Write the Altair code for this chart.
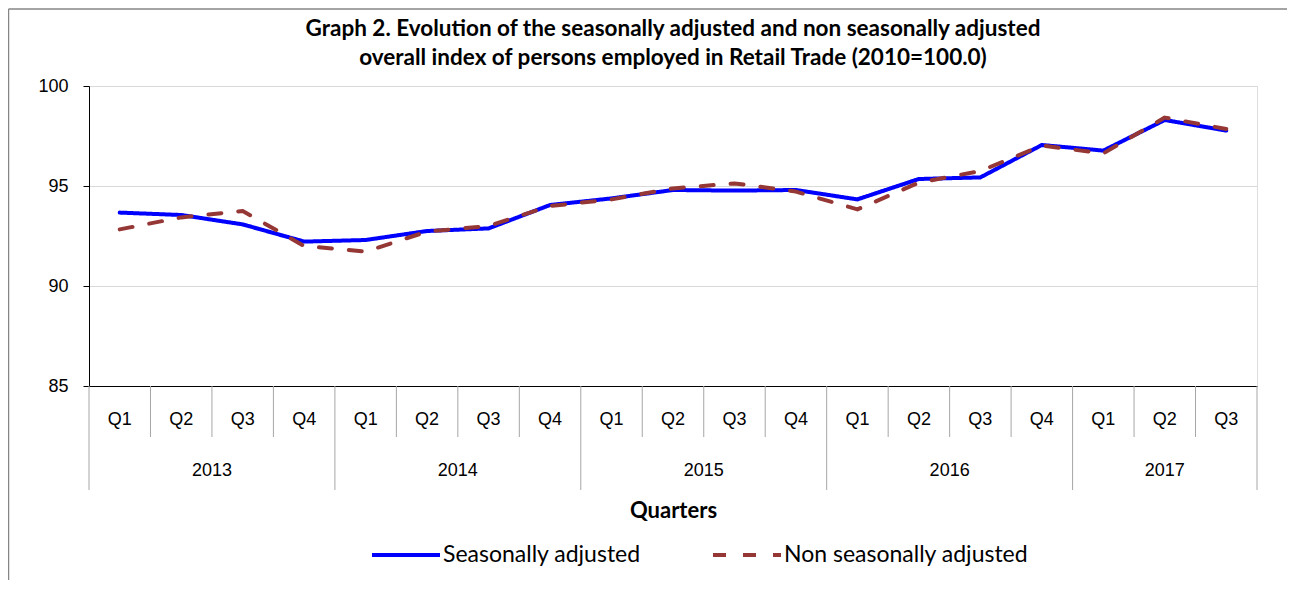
import altair as alt
import pandas as pd

quarters = ["Q1", "Q2", "Q3", "Q4", "Q1", "Q2", "Q3", "Q4", "Q1", "Q2", "Q3", "Q4",
            "Q1", "Q2", "Q3", "Q4", "Q1", "Q2", "Q3"]
years = ["2013"] * 4 + ["2014"] * 4 + ["2015"] * 4 + ["2016"] * 4 + ["2017"] * 3
sa = [93.67, 93.55, 93.08, 92.22, 92.30, 92.75, 92.88, 94.05, 94.38, 94.80,
      94.77, 94.80, 94.33, 95.35, 95.43, 97.05, 96.77, 98.30, 97.77]
nsa = [92.83, 93.43, 93.75, 92.00, 91.72, 92.72, 93.00, 94.00, 94.33, 94.88,
       95.13, 94.72, 93.83, 95.17, 95.75, 97.02, 96.63, 98.42, 97.85]
series_names = ["Seasonally adjusted", "Non seasonally adjusted"]
title_lines = ["Graph 2. Evolution of the seasonally adjusted and non seasonally adjusted",
               "overall index of persons employed in Retail Trade (2010=100.0)"]

n = len(quarters)
idx = list(range(n))
rows = []
for name, vals in zip(series_names, [sa, nsa]):
    for i in idx:
        rows.append({"i": i, "value": vals[i], "series": name})
df = pd.DataFrame(rows)
cat = pd.DataFrame({"i": idx, "q": quarters, "year": years})

short_b, long_b = [], []
for i in range(n + 1):
    b = i - 0.5
    if i == 0 or i == n or years[i] != years[i - 1]:
        long_b.append(b)
    else:
        short_b.append(b)
sep_short = pd.DataFrame({"b": short_b})
sep_long = pd.DataFrame({"b": long_b})

W, H = 1168, 300
xscale = alt.Scale(domain=[-0.5, n - 0.5], nice=False, zero=False)

lines = alt.Chart(df).mark_line(strokeWidth=4, strokeCap="round", strokeJoin="round").encode(
    x=alt.X("i:Q", scale=xscale,
            axis=alt.Axis(labels=False, ticks=False, grid=False, domainColor="#000000",
                          domainWidth=1, title="Quarters", titleFont="Lato", titleFontSize=22,
                          titleFontWeight="bold", titleColor="#000000", titlePadding=114)),
    y=alt.Y("value:Q", scale=alt.Scale(domain=[85, 100], nice=False, zero=False),
            axis=alt.Axis(values=[85, 90, 95, 100], title=None, grid=True, gridColor="#d9d9d9",
                          domainColor="#000000", tickColor="#000000", tickSize=6,
                          labelFont="Liberation Sans", labelFontSize=18, labelColor="#000000",
                          labelPadding=15)),
    color=alt.Color("series:N", scale=alt.Scale(domain=series_names, range=["#0000ff", "#953735"]),
                    legend=alt.Legend(orient="none", legendX=281, legendY=433, direction="horizontal",
                                      title=None, symbolType="stroke", symbolSize=4624,
                                      symbolStrokeWidth=4, labelFont="Lato", labelFontSize=23,
                                      labelColor="#000000", labelOffset=1, columnPadding=64,
                                      labelLimit=400)),
    strokeDash=alt.StrokeDash("series:N", scale=alt.Scale(domain=series_names, range=[[1, 0], [13, 17]]),
                              legend=None),
    order=alt.Order("series:N", sort="descending"),
)

qlabels = alt.Chart(cat).mark_text(font="Liberation Sans", fontSize=18, color="#000000",
                                   baseline="middle").encode(
    x=alt.X("i:Q", scale=xscale), y=alt.value(H + 34), text="q:N")

ylabels = alt.Chart(cat).transform_aggregate(
    m="mean(i)", groupby=["year"]).mark_text(font="Liberation Sans", fontSize=18, color="#000000",
                                               baseline="middle").encode(
    x=alt.X("m:Q", scale=xscale), y=alt.value(H + 85), text="year:N")

rshort = alt.Chart(sep_short).mark_rule(color="#a6a6a6", strokeWidth=1).encode(
    x=alt.X("b:Q", scale=xscale), y=alt.value(H), y2=alt.value(H + 51))
rlong = alt.Chart(sep_long).mark_rule(color="#a6a6a6", strokeWidth=1).encode(
    x=alt.X("b:Q", scale=xscale), y=alt.value(H), y2=alt.value(H + 104))

one = pd.DataFrame({"a": [0]})
border_left = alt.Chart(one).mark_rule(color="#868686", strokeWidth=1.5).encode(
    x=alt.value(-80.5), y=alt.value(-77), y2=alt.value(530))
border_top = alt.Chart(one).mark_rule(color="#868686", strokeWidth=1.5).encode(
    x=alt.value(-80.5), x2=alt.value(1200), y=alt.value(-77))

chart = alt.layer(rshort, rlong, lines, qlabels, ylabels, border_left, border_top).properties(
    width=W, height=H,
    autosize=alt.AutoSizeParams(type="none"),
    padding={"left": 81, "top": 78, "right": 30, "bottom": 194},
    title=alt.TitleParams(title_lines, font="Lato", fontSize=22.5, fontWeight="bold",
                          color="#000000", anchor="middle", frame="group", offset=-61, lineHeight=29),
).configure_view(stroke="#868686", strokeWidth=1).configure(background="white")

chart.save("out.html", embed_options={"renderer": "svg", "actions": False})
